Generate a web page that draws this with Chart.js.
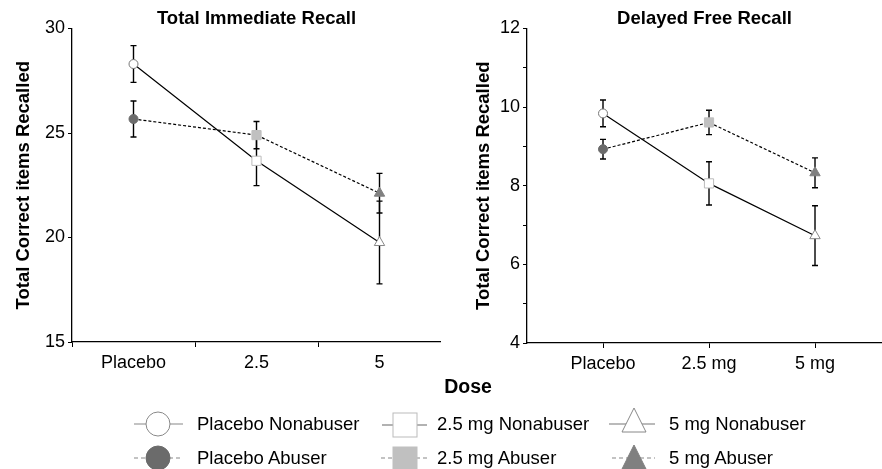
<!DOCTYPE html>
<html><head><meta charset="utf-8">
<script src="https://cdn.jsdelivr.net/npm/chart.js@4"></script>
<style>
body{margin:0;background:#fff;width:882px;height:469px;overflow:hidden;position:relative;font-family:"Liberation Sans",Arial,sans-serif;}
canvas{position:absolute;top:0;}
#c1{left:0}
#c2{left:441px}
.lbl{position:absolute;font-size:18.5px;color:#000;line-height:20px;white-space:nowrap}
svg{position:absolute;left:0;top:0}
</style></head><body>
<canvas id="c1" width="441" height="382"></canvas>
<canvas id="c2" width="441" height="382"></canvas>
<div class="lbl" id="doseTitle" style="left:468px;top:386px;transform:translate(-50%,-50%);font-weight:bold;font-size:19.5px">Dose</div>
<svg width="882" height="469" id="leg"></svg>
<div id="legText"></div>
<script>
// ---- data ----
const doseLeft = ['Placebo', '2.5', '5'];
const doseRight = ['Placebo', '2.5 mg', '5 mg'];
const immediateNonabuser = [28.3, 23.67, 19.76];
const immediateNonabuserErr = [0.88, 1.19, 1.98];
const immediateAbuser = [25.67, 24.9, 22.12];
const immediateAbuserErr = [0.86, 0.65, 0.95];
const delayedNonabuser = [9.84, 8.06, 6.73];
const delayedNonabuserErr = [0.34, 0.55, 0.76];
const delayedAbuser = [8.93, 9.61, 8.33];
const delayedAbuserErr = [0.25, 0.31, 0.38];
const leftTicks = [15, 20, 25, 30];
const rightMajorTicks = [4, 6, 8, 10, 12];
const legendRow1 = ['Placebo Nonabuser', '2.5 mg Nonabuser', '5 mg Nonabuser'];
const legendRow2 = ['Placebo Abuser', '2.5 mg Abuser', '5 mg Abuser'];

const pointStyles = ['circle', 'rect', 'triangle'];
const pointRadii = [4.5, 6.5, 6];
const nonBorder = ['#777', '#bbb', '#888'];
const abFill = ['#6b6b6b', '#c0c0c0', '#808080'];

const errorBars = {
  id: 'errorBars',
  beforeDatasetsDraw(chart) {
    const ctx = chart.ctx, ys = chart.scales.y;
    chart.data.datasets.forEach((ds, i) => {
      const meta = chart.getDatasetMeta(i);
      ds.errors.forEach((e, j) => {
        const p = meta.data[j];
        const raw = ds.data[j];
        const val = typeof raw === 'object' ? raw.y : raw;
        const top = ys.getPixelForValue(val + e), bot = ys.getPixelForValue(val - e);
        ctx.save();
        ctx.strokeStyle = '#000'; ctx.lineWidth = 1.4;
        ctx.beginPath();
        ctx.moveTo(p.x, top); ctx.lineTo(p.x, bot);
        ctx.moveTo(p.x - 3, top); ctx.lineTo(p.x + 3, top);
        ctx.moveTo(p.x - 3, bot); ctx.lineTo(p.x + 3, bot);
        ctx.stroke(); ctx.restore();
      });
    });
  }
};

function makeDatasets(non, nonErr, ab, abErr, asXY) {
  const conv = arr => asXY ? arr.map((v, j) => ({x: j, y: v})) : arr;
  return [
    {label: 'Nonabuser', data: conv(non), errors: nonErr, borderColor: '#000', borderWidth: 1.2,
     pointStyle: pointStyles, pointRadius: pointRadii, pointBackgroundColor: '#fff',
     pointBorderColor: nonBorder, pointBorderWidth: 1, tension: 0},
    {label: 'Abuser', data: conv(ab), errors: abErr, borderColor: '#000', borderWidth: 1.2, borderDash: [3, 2],
     pointStyle: pointStyles, pointRadius: pointRadii, pointBackgroundColor: abFill,
     pointBorderColor: abFill, pointBorderWidth: 1, tension: 0}
  ];
}

const axisFont = {family: '"Liberation Sans", Arial, sans-serif', size: 18};
const boldFont = {family: '"Liberation Sans", Arial, sans-serif', size: 18.5, weight: 'bold'};

function commonPlugins(title) {
  return {
    legend: {display: false},
    tooltip: {enabled: false},
    title: {display: true, text: title, font: Object.assign({lineHeight: 1}, boldFont), color: '#000',
            padding: {top: 10, bottom: 0}, fullSize: false}
  };
}

new Chart(document.getElementById('c1'), {
  type: 'line',
  data: {labels: doseLeft, datasets: makeDatasets(immediateNonabuser, immediateNonabuserErr, immediateAbuser, immediateAbuserErr, false)},
  options: {
    responsive: false, animation: false, events: [],
    layout: {padding: 0, autoPadding: false},
    plugins: commonPlugins('Total Immediate Recall'),
    scales: {
      x: {type: 'category', offset: true,
          grid: {offset: true, drawOnChartArea: false, drawTicks: true, tickLength: 5, color: '#000'},
          border: {color: '#000', width: 1.3},
          ticks: {font: axisFont, color: '#000', padding: 5, maxRotation: 0},
          afterFit(s) { s.height = 40; }},
      y: {min: 15, max: 30,
          afterBuildTicks(s) { s.ticks = leftTicks.map(v => ({value: v})); },
          grid: {drawOnChartArea: false, tickLength: 4, color: '#000'},
          border: {color: '#000', width: 1.3},
          ticks: {font: axisFont, color: '#000', padding: 3},
          title: {display: true, text: 'Total Correct items Recalled', font: boldFont, color: '#000', padding: {top: 13, bottom: 0}},
          afterFit(s) { s.width = 72; }}
    }
  },
  plugins: [errorBars]
});

new Chart(document.getElementById('c2'), {
  type: 'line',
  data: {datasets: makeDatasets(delayedNonabuser, delayedNonabuserErr, delayedAbuser, delayedAbuserErr, true)},
  options: {
    responsive: false, animation: false, events: [],
    layout: {padding: 0, autoPadding: false},
    plugins: commonPlugins('Delayed Free Recall'),
    scales: {
      x: {type: 'linear', min: -0.717, max: 2.632,
          afterBuildTicks(s) { s.ticks = doseRight.map((d, i) => ({value: i})); },
          grid: {drawOnChartArea: false, drawTicks: true, tickLength: 5, color: '#000'},
          border: {color: '#000', width: 1.3},
          ticks: {font: axisFont, color: '#000', padding: 5, maxRotation: 0, callback: v => doseRight[v]},
          afterFit(s) { s.height = 39; }},
      y: {min: 4, max: 12,
          ticks: {stepSize: 0.5, font: axisFont, color: '#000', padding: 3,
                  callback: v => rightMajorTicks.includes(v) ? String(v) : ''},
          grid: {drawOnChartArea: false, tickLength: 4, color: '#000'},
          border: {color: '#000', width: 1.3},
          title: {display: true, text: 'Total Correct items Recalled', font: boldFont, color: '#000', padding: {top: 31.5, bottom: 0}},
          afterFit(s) { s.width = 86; }}
    }
  },
  plugins: [errorBars]
});

// ---- legend ----
const svgNS = 'http://www.w3.org/2000/svg';
const leg = document.getElementById('leg');
function el(tag, attrs) { const e = document.createElementNS(svgNS, tag); for (const k in attrs) e.setAttribute(k, attrs[k]); leg.appendChild(e); return e; }
const rowsY = [424, 458];
// column 1: circles
el('line', {x1: 134, y1: 424, x2: 183, y2: 424, stroke: '#888', 'stroke-width': 1.2});
el('circle', {cx: 158, cy: 424, r: 12, fill: '#fff', stroke: '#888', 'stroke-width': 1});
el('line', {x1: 134, y1: 458, x2: 183, y2: 458, stroke: '#888', 'stroke-width': 1.2, 'stroke-dasharray': '4 3'});
el('circle', {cx: 158, cy: 458, r: 12, fill: '#6b6b6b', stroke: '#6b6b6b'});
// column 2: squares
el('line', {x1: 382, y1: 425, x2: 427, y2: 425, stroke: '#666', 'stroke-width': 1.2});
el('rect', {x: 393, y: 413, width: 24, height: 24, fill: '#fff', stroke: '#bbb', 'stroke-width': 1});
el('line', {x1: 381, y1: 458, x2: 427, y2: 458, stroke: '#888', 'stroke-width': 1.2, 'stroke-dasharray': '4 3'});
el('rect', {x: 393, y: 447, width: 24, height: 23, fill: '#c0c0c0', stroke: '#c0c0c0'});
// column 3: triangles
el('line', {x1: 609, y1: 424, x2: 655, y2: 424, stroke: '#777', 'stroke-width': 1.2});
el('polygon', {points: '634,408 622,432 646,432', fill: '#fff', stroke: '#888', 'stroke-width': 1});
el('line', {x1: 612, y1: 458, x2: 655, y2: 458, stroke: '#888', 'stroke-width': 1.2, 'stroke-dasharray': '4 3'});
el('polygon', {points: '634,445 622,469 646,469', fill: '#808080', stroke: '#808080'});

const textX = [197, 437, 669];
const lt = document.getElementById('legText');
[legendRow1, legendRow2].forEach((row, r) => {
  row.forEach((t, c) => {
    const d = document.createElement('div');
    d.className = 'lbl';
    d.style.left = textX[c] + 'px';
    d.style.top = (rowsY[r] - 10) + 'px';
    d.textContent = t;
    lt.appendChild(d);
  });
});
</script>
</body></html>
